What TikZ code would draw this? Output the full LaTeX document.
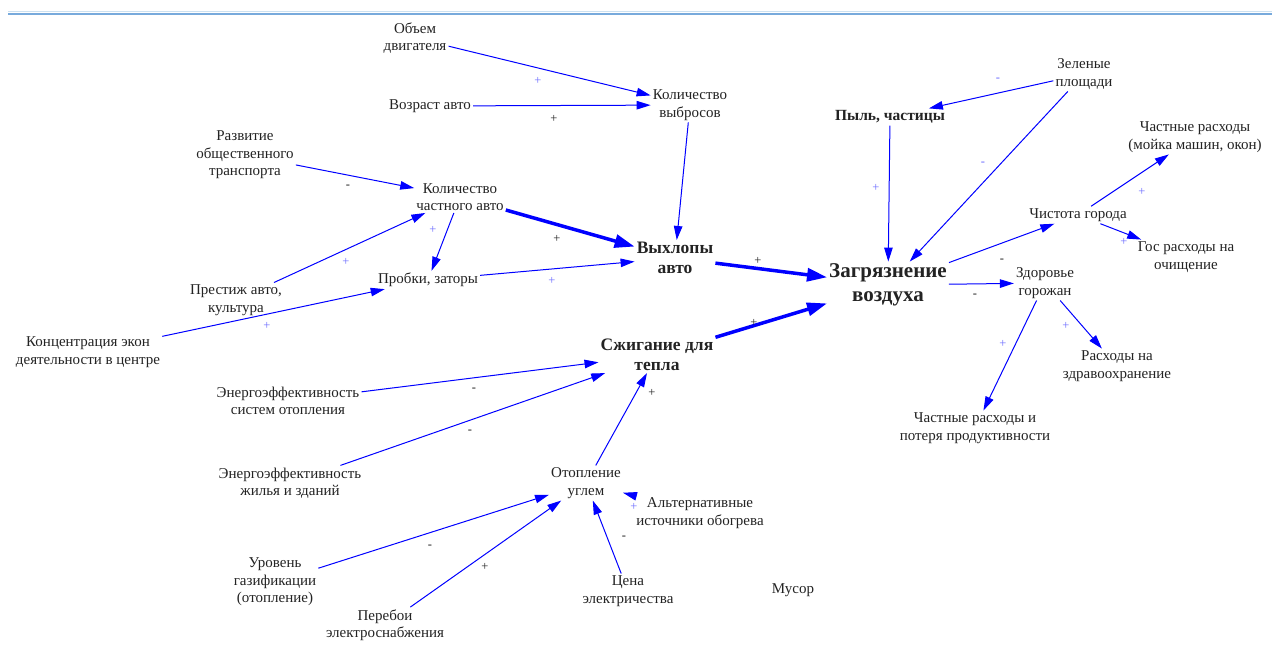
\documentclass[tikz,border=0pt]{standalone}
\usepackage{fontspec}
\setmainfont{Liberation Serif}
\usetikzlibrary{arrows.meta}
\definecolor{topline}{RGB}{120,170,220}
\definecolor{toplight}{RGB}{205,225,240}
\definecolor{txt}{RGB}{35,35,35}
\definecolor{lblue}{RGB}{110,110,255}
\begin{document}
\begin{tikzpicture}[x=1pt,y=-1pt,
 lbl/.style={font=\fontsize{15}{17.5}\selectfont, align=center, text=txt, inner sep=2pt},
 bigl/.style={font=\fontsize{21}{24}\selectfont\bfseries, align=center, text=txt, inner sep=2pt},
 midl/.style={font=\fontsize{17.5}{20}\selectfont\bfseries, align=center, text=txt, inner sep=2pt},
 pyll/.style={font=\fontsize{15.5}{20}\selectfont\bfseries, align=center, text=txt, inner sep=2pt},
 link/.style={draw=blue, line width=1pt, -{Triangle[length=14pt,width=8.5pt]}},
 thicklink/.style={draw=blue, line width=3.5pt, -{Triangle[length=20pt,width=13pt]}},
 sg/.style={font=\fontsize{12.5}{12.5}\selectfont, text=txt, inner sep=0pt},
 sgb/.style={sg, text=lblue},
]
\useasboundingbox (0,0) rectangle (1272,648);
\fill[white] (0,0) rectangle (1272,648);
\draw[toplight, line width=1.2pt] (8,11.5) -- (1272,11.5);
\draw[topline, line width=2pt] (8,13.5) -- (1272,13.5);

% nodes
\node[lbl] (obem) at (415,38) {Объем\\двигателя};
\node[lbl] (vozr) at (430,106) {Возраст авто};
\node[lbl] (kvyb) at (690,105) {Количество\\выбросов};
\node[lbl] (razv) at (245,155) {Развитие\\общественного\\транспорта};
\node[lbl] (kcha) at (460,197) {Количество\\частного авто};
\node[lbl] (prob) at (428,280) {Пробки, заторы};
\node[lbl] (pres) at (236,300) {Престиж авто,\\культура};
\node[lbl] (konc) at (88,352) {Концентрация экон\\деятельности в центре};
\node[midl] (vyhl) at (675,258) {Выхлопы\\авто};
\node[bigl] (zagr) at (888,285) {Загрязнение\\воздуха};
\node[pyll] (pyl) at (890,117) {Пыль, частицы};
\node[lbl] (zel) at (1084,74) {Зеленые\\площади};
\node[lbl] (chr) at (1195,137) {Частные расходы\\(мойка машин, окон)};
\node[lbl] (chis) at (1078,215) {Чистота города};
\node[lbl] (gos) at (1186,257) {Гос расходы на\\очищение};
\node[lbl] (zdor) at (1045,283) {Здоровье\\горожан};
\node[lbl] (rzdr) at (1117,366) {Расходы на\\здравоохранение};
\node[lbl] (chpr) at (975,428) {Частные расходы и\\потеря продуктивности};
\node[midl] (szh) at (657,355) {Сжигание для\\тепла};
\node[lbl] (eso) at (288,401) {Энергоэффективность\\систем отопления};
\node[lbl] (ezh) at (290,483) {Энергоэффективность\\жилья и зданий};
\node[lbl] (otop) at (586,483) {Отопление\\углем};
\node[lbl] (alt) at (700,513) {Альтернативные\\источники обогрева};
\node[lbl] (gaz) at (275,582) {Уровень\\газификации\\(отопление)};
\node[lbl] (pere) at (385,625) {Перебои\\электроснабжения};
\node[lbl] (cena) at (628,591) {Цена\\электричества};
\node[lbl] (mus) at (793,590) {Мусор};

% connectors
\draw[link] (obem) -- (kvyb);
\draw[link] (vozr) -- (kvyb);
\draw[link] (kvyb) -- (vyhl);
\draw[link] (razv) -- (kcha);
\draw[link] (pres) -- (kcha);
\draw[link] (kcha) -- (prob);
\draw[thicklink] (kcha) -- (vyhl);
\draw[link] (prob) -- (vyhl);
\draw[link] (konc) -- (prob);
\draw[thicklink] (vyhl) -- (zagr);
\draw[thicklink] (szh) -- (zagr);
\draw[link] (pyl) -- (zagr);
\draw[link] (zel) -- (pyl);
\draw[link] (zel) -- (zagr);
\draw[link] (zagr) -- (chis);
\draw[link] (zagr) -- (zdor);
\draw[link] (chis) -- (chr);
\draw[link] (chis) -- (gos);
\draw[link] (zdor) -- (rzdr);
\draw[link] (zdor) -- (chpr);
\draw[link] (eso) -- (szh);
\draw[link] (ezh) -- (szh);
\draw[link] (otop) -- (szh);
\draw[link] (gaz) -- (otop);
\draw[link] (pere) -- (otop);
\draw[link] (cena) -- (otop);
\draw[link] (alt) -- (otop);

% signs
\node[sgb] (s1) at (538,81) {+};
\node[sg] (s2) at (554,119) {+};
\node[sg] (s4) at (348,187) {-};
\node[sgb] (s5) at (346,262) {+};
\node[sgb] (s6) at (433,230) {+};
\node[sg] (s7) at (557,239) {+};
\node[sgb] (s8) at (552,281) {+};
\node[sgb] (s9) at (267,326) {+};
\node[sg] (s10) at (758,261) {+};
\node[sg] (s11) at (754,323) {+};
\node[sgb] (s12) at (876,188) {+};
\node[sgb] (s13) at (998,80) {-};
\node[sgb] (s14) at (983,164) {-};
\node[sg] (s15) at (1002,261) {-};
\node[sg] (s16) at (975,296) {-};
\node[sgb] (s17) at (1142,192) {+};
\node[sgb] (s18) at (1124,242) {+};
\node[sgb] (s19) at (1066,326) {+};
\node[sgb] (s20) at (1003,344) {+};
\node[sg] (s21) at (474,390) {-};
\node[sg] (s22) at (470,432) {-};
\node[sg] (s23) at (652,393) {+};
\node[sg] (s24) at (430,547) {-};
\node[sg] (s25) at (485,567) {+};
\node[sg] (s26) at (624,538) {-};
\node[sgb] (s27) at (634,507) {+};
\end{tikzpicture}
\end{document}
